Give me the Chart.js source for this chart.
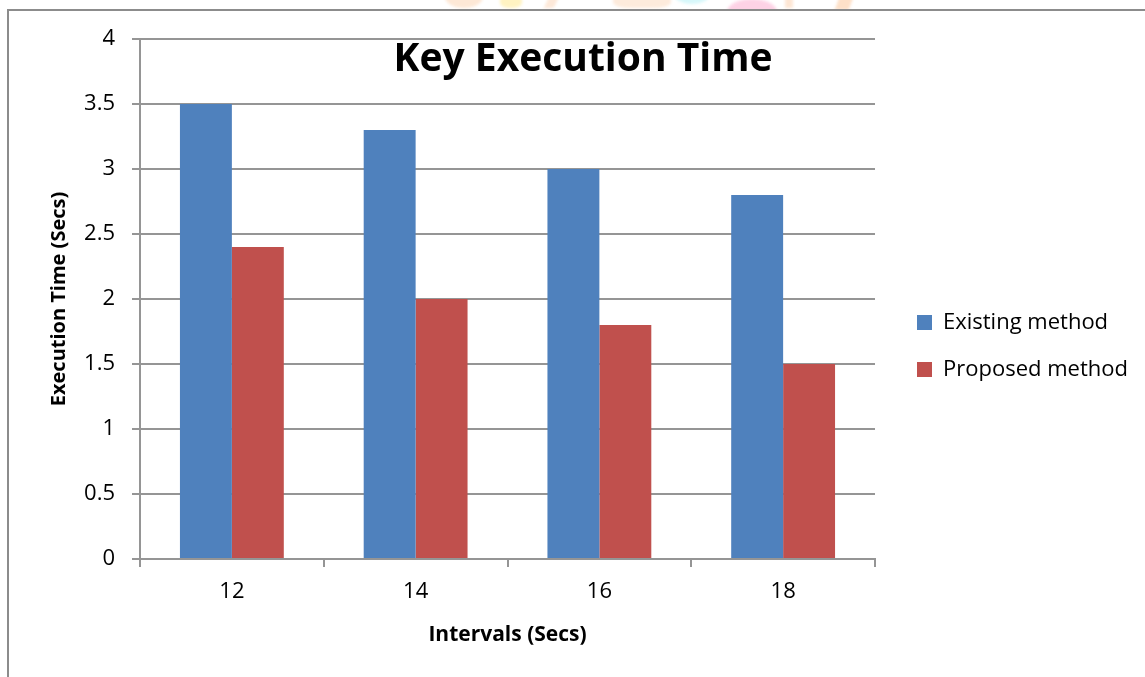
<!DOCTYPE html>
<html>
<head>
<meta charset="utf-8">
<title>Key Execution Time</title>
<script src="https://cdn.jsdelivr.net/npm/chart.js@4.4.0/dist/chart.umd.min.js"></script>
<style>
  html, body { margin: 0; padding: 0; background: #fff; overflow: hidden; }
  body { width: 1145px; height: 677px; position: relative; }
  .strip { position: absolute; left: 0; top: 0; width: 1145px; height: 10px; overflow: hidden; }
  .blob { position: absolute; filter: blur(1.5px); }
  .frame { position: absolute; left: 7px; top: 9px; width: 1300px; height: 800px;
           border-top: 2px solid #8c8c8c; border-left: 2px solid #8c8c8c; }
  #wrap { position: absolute; left: 0; top: 0; width: 1145px; height: 677px; }
</style>
</head>
<body>
<div class="strip">
  <div class="blob" style="left:445px;top:-14px;width:38px;height:22px;border-radius:50%;background:#fde8d6;"></div>
  <div class="blob" style="left:500px;top:-6px;width:22px;height:14px;border-radius:40%;background:#fff3c2;"></div>
  <div class="blob" style="left:548px;top:-10px;width:10px;height:18px;background:#fde9d9;transform:skewX(-25deg);"></div>
  <div class="blob" style="left:613px;top:-10px;width:58px;height:18px;border-radius:30%;background:#fdebdc;"></div>
  <div class="blob" style="left:674px;top:-16px;width:36px;height:20px;border-radius:50%;background:#d6f7fa;"></div>
  <div class="blob" style="left:727px;top:-1px;width:50px;height:26px;border-radius:50%;background:#fdd2e5;"></div>
  <div class="blob" style="left:785px;top:-8px;width:8px;height:16px;background:#fde6d4;"></div>
  <div class="blob" style="left:838px;top:-8px;width:14px;height:18px;background:#fde0c8;transform:skewX(-20deg);"></div>
</div>
<div class="frame"></div>
<div id="wrap"><canvas id="chart" width="1145" height="677"></canvas></div>

<script>
// ---- data ----
const categories = ['12', '14', '16', '18'];
const existingMethod = [3.5, 3.3, 3.0, 2.8];
const proposedMethod = [2.4, 2.0, 1.8, 1.5];
const seriesNames = ['Existing method', 'Proposed method'];
const seriesColors = ['#4F81BD', '#C0504D'];
const yMin = 0;
const yMax = 4;
const yStep = 0.5;
const chartTitle = 'Key Execution Time';
const xAxisTitle = 'Intervals (Secs)';
const yAxisTitle = 'Execution Time (Secs)';

// ---- styling ----
const FONT = '"Open Sans"';
const GRID = '#959595';
const LEGEND_FONT = 22;
const LEGEND_PAD = 25;
const LEGEND_BOX = 15;
const GAP_AXIS = 17;   // space between plot edge and legend column
const PLOT_RIGHT = 875;

// width of the longest legend entry, used to size the right margin
const measure = document.createElement('canvas').getContext('2d');
measure.font = LEGEND_FONT + 'px ' + FONT;
const legendTextW = Math.max(...seriesNames.map(s => measure.measureText(s).width));
const legendW = LEGEND_PAD + LEGEND_BOX + LEGEND_FONT / 2 + legendTextW + 10;
const rightPad = Math.max(0, 1145 - PLOT_RIGHT - GAP_AXIS - legendW);

// chart title drawn over the upper part of the plot
const plotTitle = {
  id: 'plotTitle',
  afterDraw(chart) {
    const { ctx, chartArea } = chart;
    ctx.save();
    ctx.font = 'bold 39px ' + FONT;
    ctx.fillStyle = '#000';
    ctx.textAlign = 'center';
    ctx.textBaseline = 'alphabetic';
    ctx.fillText(chartTitle, chartArea.left + 443, chartArea.top + 32);
    ctx.restore();
  }
};

new Chart(document.getElementById('chart'), {
  type: 'bar',
  data: {
    labels: categories,
    datasets: [
      { label: seriesNames[0], data: existingMethod, backgroundColor: seriesColors[0] },
      { label: seriesNames[1], data: proposedMethod, backgroundColor: seriesColors[1] }
    ]
  },
  options: {
    responsive: false,
    devicePixelRatio: 1,
    animation: false,
    datasets: {
      bar: { barPercentage: 1, categoryPercentage: 104 / 184, borderWidth: 0 }
    },
    layout: { padding: { top: 39, bottom: 24, left: 0, right: rightPad } },
    plugins: {
      title: { display: false },
      tooltip: { enabled: false },
      legend: {
        position: 'right',
        align: 'center',
        maxWidth: 400,
        labels: {
          boxWidth: LEGEND_BOX,
          boxHeight: LEGEND_BOX,
          padding: LEGEND_PAD,
          color: '#000',
          font: { family: FONT, size: LEGEND_FONT }
        }
      }
    },
    scales: {
      x: {
        offset: true,
        grid: { display: true, drawOnChartArea: false, offset: true, tickLength: 8, color: GRID, lineWidth: 2 },
        border: { display: true, color: GRID, width: 2 },
        ticks: { color: '#000', padding: 12, font: { family: FONT, size: 22 } },
        title: {
          display: true, text: xAxisTitle, color: '#000',
          font: { family: FONT, size: 21, weight: 'bold' },
          padding: { top: 0, bottom: 5 }
        },
        afterFit(scale) { scale.height = 94; }
      },
      y: {
        min: yMin,
        max: yMax,
        ticks: {
          stepSize: yStep, color: '#000', padding: 17, font: { family: FONT, size: 22 },
          callback: (v) => String(v)
        },
        grid: { color: GRID, lineWidth: 2, tickLength: 8 },
        border: { display: true, color: GRID, width: 2 },
        title: {
          display: true, text: yAxisTitle, color: '#000',
          font: { family: FONT, size: 20, weight: 'bold' },
          padding: { top: 47, bottom: 0 }
        },
        afterFit(scale) { scale.width = 140; }
      },
      gap: {
        type: 'linear',
        position: 'right',
        display: true,
        grid: { display: false },
        border: { display: false },
        ticks: { display: false },
        afterFit(scale) { scale.width = GAP_AXIS; }
      }
    }
  },
  plugins: [plotTitle]
});
</script>
</body>
</html>
